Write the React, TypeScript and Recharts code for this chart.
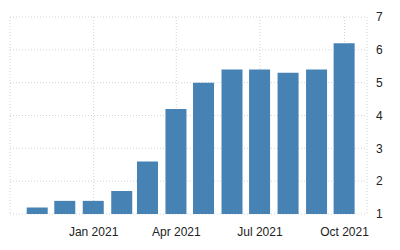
import { BarChart, Bar, XAxis, YAxis, CartesianGrid } from "recharts"

const months = [
  "2020-11", "2020-12", "2021-01", "2021-02", "2021-03", "2021-04",
  "2021-05", "2021-06", "2021-07", "2021-08", "2021-09", "2021-10",
]
const values = [1.2, 1.4, 1.4, 1.7, 2.6, 4.2, 5.0, 5.4, 5.4, 5.3, 5.4, 6.2]
const tickMonths = ["2021-01", "2021-04", "2021-07", "2021-10"]
const tickLabels = ["Jan 2021", "Apr 2021", "Jul 2021", "Oct 2021"]
const yTicks = [1, 2, 3, 4, 5, 6, 7]

// days since the first month, so bars sit on a time scale
const dayOf = (m: string) => {
  const [y, mo] = m.split("-").map(Number)
  const [y0, m0] = months[0].split("-").map(Number)
  return (Date.UTC(y, mo - 1, 1) - Date.UTC(y0, m0 - 1, 1)) / 86400000
}

const data = months.map((m, i) => ({ day: dayOf(m), value: values[i] }))
const xTicks = tickMonths.map(dayOf)

const tickStyle = { fontSize: 12, fill: "#222", fontFamily: "'Liberation Sans', Arial, sans-serif" }

export default function App() {
  return (
    <div style={{ position: "absolute", left: 0, top: 0, background: "#fff" }}>
      <BarChart
        width={400}
        height={250}
        data={data}
        margin={{ top: 17, right: 5, left: 10, bottom: 0 }}
      >
        <CartesianGrid stroke="#d4d4d4" strokeDasharray="1 2" />
        <XAxis
          dataKey="day"
          type="number"
          domain={[-30, 358.5]}
          ticks={xTicks}
          tickFormatter={(v: number) => tickLabels[xTicks.indexOf(v)] ?? ""}
          axisLine={false}
          tickLine={false}
          tickMargin={7}
          height={36}
          tick={tickStyle}
          interval={0}
        />
        <YAxis
          orientation="right"
          domain={[1, 7]}
          ticks={yTicks}
          axisLine={false}
          tickLine={false}
          tickMargin={3}
          width={28}
          tick={tickStyle}
        />
        <Bar dataKey="value" fill="#4682b4" barSize={21} isAnimationActive={false} />
      </BarChart>
    </div>
  )
}
